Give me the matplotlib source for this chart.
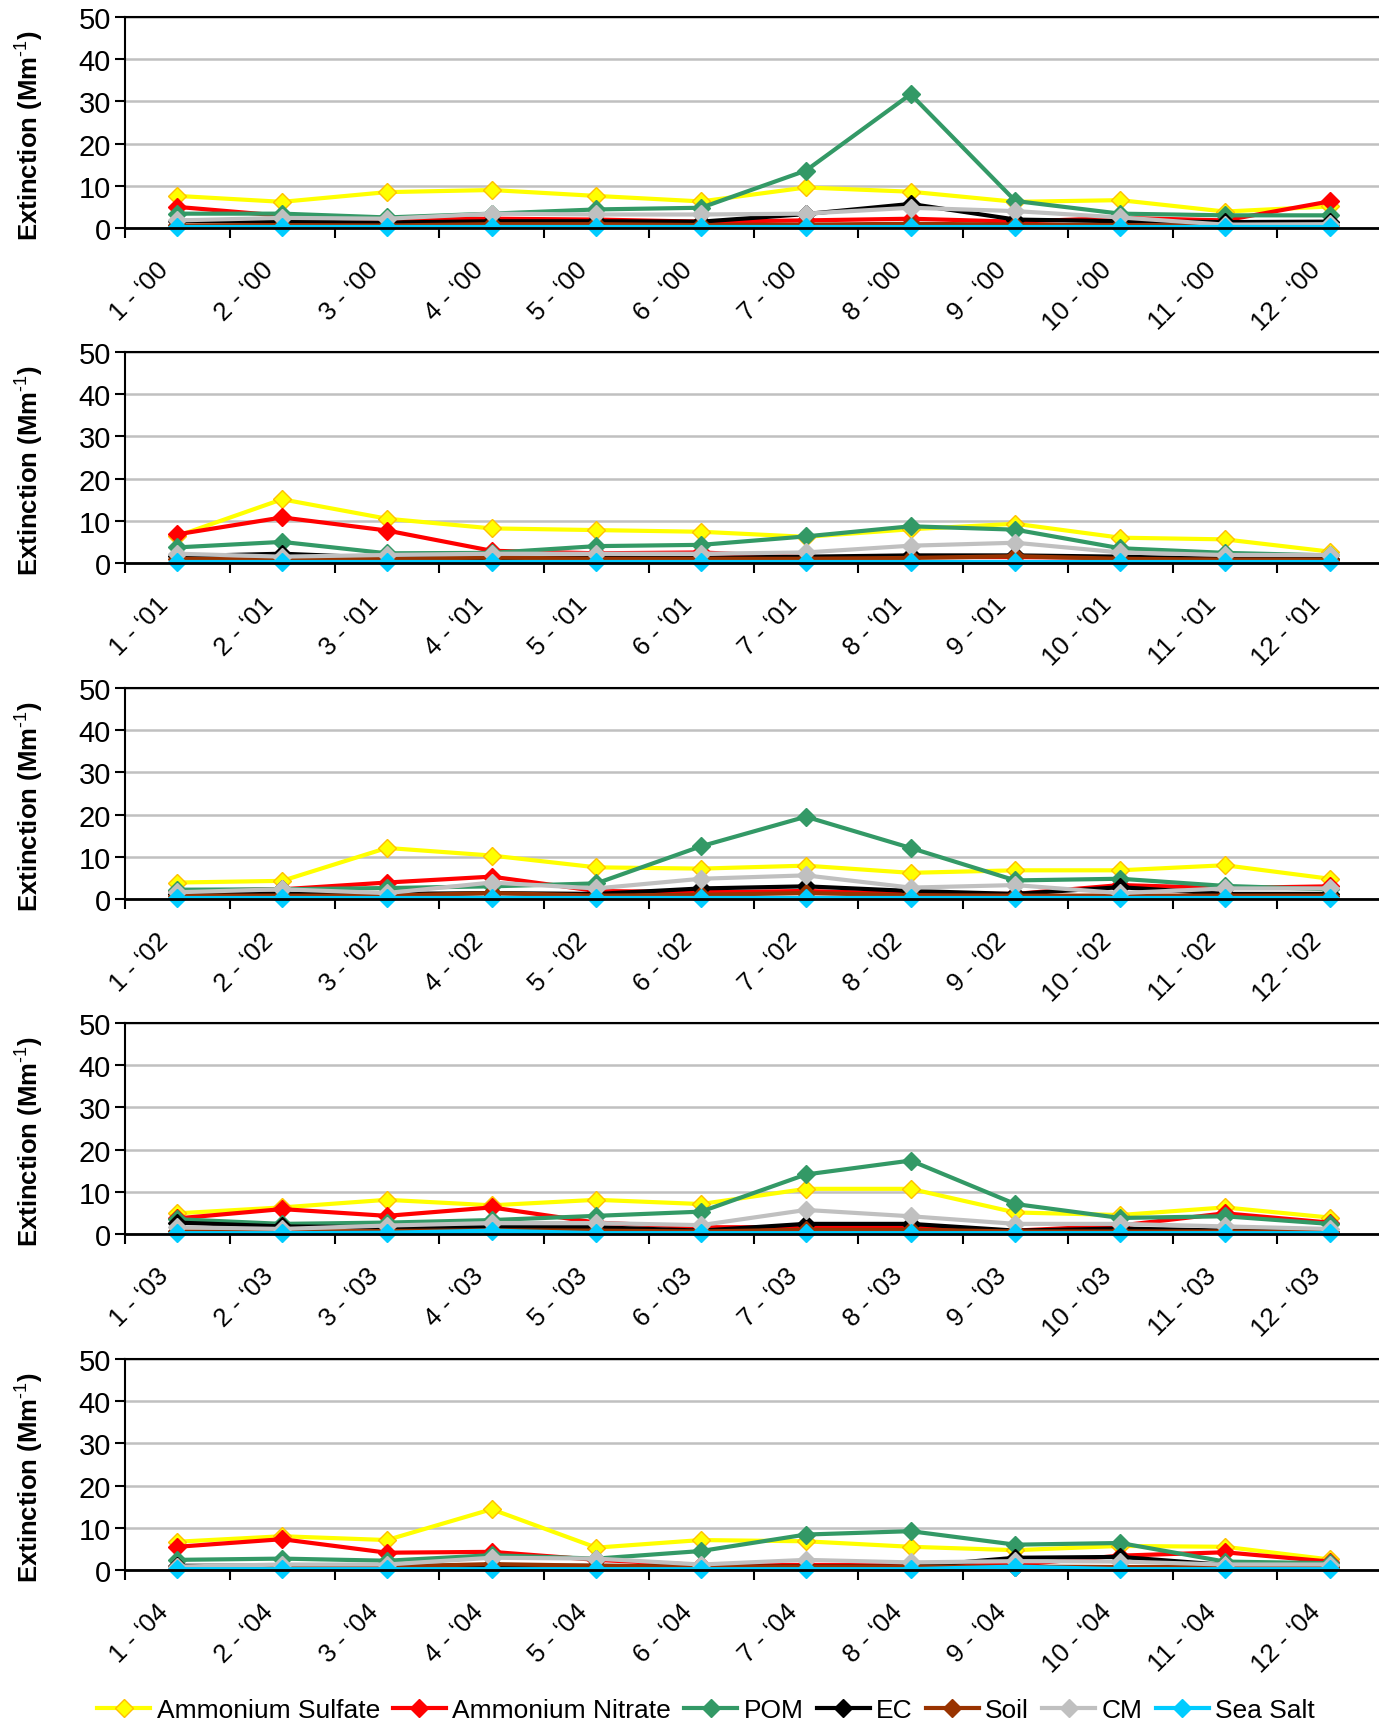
import numpy as np
import matplotlib
matplotlib.use("Agg")
import matplotlib.pyplot as plt
from matplotlib.transforms import ScaledTranslation

plt.rcParams['font.family'] = ['Liberation Sans', 'DejaVu Sans']
plt.rcParams['mathtext.fontset'] = 'custom'
plt.rcParams['mathtext.rm'] = 'Liberation Sans'
plt.rcParams['mathtext.bf'] = 'Liberation Sans:bold'

years = ['00', '01', '02', '03', '04']
months = list(range(1, 13))

# extinction (Mm-1), one row per year 2000..2004
amm_sulfate = [
    [7.6, 6.2, 8.5, 9.0, 7.6, 6.3, 9.6, 8.6, 6.2, 6.6, 3.9, 5.1],
    [6.4, 15.1, 10.5, 8.2, 7.8, 7.4, 6.2, 8.0, 9.3, 6.0, 5.6, 2.7],
    [3.9, 4.3, 12.1, 10.3, 7.5, 7.2, 7.9, 6.2, 6.8, 6.8, 8.0, 4.8],
    [4.9, 6.3, 8.1, 6.8, 8.1, 7.1, 10.7, 10.7, 5.1, 4.5, 6.3, 3.9],
    [6.7, 8.0, 7.1, 14.4, 5.3, 7.1, 6.8, 5.5, 4.7, 5.7, 5.5, 2.5],
]
amm_nitrate = [
    [5.0, 2.9, 2.0, 2.2, 2.0, 1.5, 1.8, 2.2, 1.5, 2.4, 1.8, 6.3],
    [6.8, 10.8, 7.7, 2.9, 2.3, 2.5, 1.4, 1.4, 1.4, 1.2, 1.0, 1.0],
    [1.9, 2.3, 3.9, 5.3, 1.9, 1.6, 1.9, 1.2, 1.2, 3.3, 2.6, 3.0],
    [3.7, 5.9, 4.3, 6.3, 2.7, 1.6, 1.6, 1.6, 0.8, 2.0, 4.9, 2.7],
    [5.5, 7.3, 4.1, 4.3, 2.4, 1.2, 1.2, 1.2, 1.2, 3.4, 4.2, 2.0],
]
pom = [
    [3.4, 3.4, 2.5, 3.4, 4.4, 4.8, 13.6, 31.7, 6.4, 3.4, 3.0, 3.0],
    [3.7, 5.0, 2.3, 2.4, 4.0, 4.3, 6.3, 8.7, 7.9, 3.5, 2.4, 1.8],
    [2.2, 2.3, 2.6, 3.0, 3.7, 12.5, 19.5, 12.1, 4.4, 4.8, 3.1, 2.3],
    [3.5, 2.4, 2.7, 3.3, 4.3, 5.3, 14.1, 17.4, 7.1, 3.8, 4.2, 2.4],
    [2.4, 2.7, 2.2, 3.5, 2.7, 4.5, 8.4, 9.2, 6.0, 6.4, 2.0, 1.6],
]
ec = [
    [1.7, 1.5, 1.3, 1.6, 1.6, 1.5, 3.3, 5.7, 2.0, 1.6, 1.4, 1.5],
    [1.6, 2.2, 1.2, 1.2, 1.2, 1.2, 1.5, 1.8, 1.8, 1.5, 1.0, 1.0],
    [1.2, 1.2, 1.2, 1.4, 1.2, 2.5, 3.0, 1.9, 1.2, 2.8, 1.2, 1.2],
    [2.7, 1.8, 1.6, 1.6, 1.6, 0.8, 2.4, 2.4, 0.8, 1.3, 0.8, 0.5],
    [1.0, 1.0, 1.0, 1.0, 1.0, 0.8, 0.8, 0.8, 2.9, 3.1, 1.2, 0.8],
]
soil = [
    [0.6, 0.7, 0.6, 0.9, 0.9, 0.7, 0.8, 1.0, 0.8, 0.7, 0.5, 0.6],
    [1.0, 0.8, 1.0, 1.3, 1.0, 1.0, 1.0, 1.2, 1.6, 1.0, 0.8, 0.8],
    [0.8, 0.8, 0.8, 1.4, 0.8, 1.0, 1.4, 0.9, 0.8, 0.8, 0.8, 0.8],
    [0.6, 0.6, 0.7, 0.9, 0.8, 0.6, 1.0, 1.0, 0.6, 0.6, 0.6, 0.5],
    [0.7, 0.8, 0.8, 1.4, 1.0, 0.8, 0.8, 0.8, 0.8, 0.7, 0.7, 0.6],
]
cm = [
    [1.8, 2.4, 2.2, 3.4, 3.2, 3.2, 3.4, 4.8, 4.0, 2.5, 0.8, 0.9],
    [2.2, 1.5, 1.9, 2.2, 2.2, 2.2, 2.5, 4.1, 4.8, 2.5, 1.9, 1.9],
    [1.6, 2.3, 1.4, 3.9, 2.5, 4.8, 5.6, 2.7, 3.3, 1.4, 2.5, 2.5],
    [1.6, 1.2, 2.0, 2.6, 2.6, 2.1, 5.7, 4.2, 2.4, 2.4, 1.8, 1.2],
    [0.8, 1.3, 1.3, 2.9, 2.7, 1.3, 2.4, 1.8, 2.1, 2.0, 1.3, 1.3],
]
sea_salt = [
    [0.2, 0.2, 0.2, 0.2, 0.2, 0.2, 0.2, 0.2, 0.2, 0.2, 0.2, 0.2],
    [0.2, 0.2, 0.2, 0.2, 0.2, 0.2, 0.2, 0.2, 0.2, 0.2, 0.2, 0.2],
    [0.2, 0.2, 0.2, 0.2, 0.2, 0.2, 0.2, 0.2, 0.2, 0.2, 0.2, 0.2],
    [0.2, 0.2, 0.3, 0.8, 0.2, 0.2, 0.2, 0.2, 0.2, 0.2, 0.2, 0.2],
    [0.2, 0.2, 0.2, 0.2, 0.2, 0.2, 0.2, 0.2, 0.8, 0.2, 0.2, 0.2],
]

series = [
    ('Ammonium Sulfate', amm_sulfate, '#FFFF00', '#FFC000'),
    ('Ammonium Nitrate', amm_nitrate, '#FF0000', '#FF0000'),
    ('POM', pom, '#339966', '#339966'),
    ('EC', ec, '#000000', '#000000'),
    ('Soil', soil, '#993300', '#993300'),
    ('CM', cm, '#C0C0C0', '#C0C0C0'),
    ('Sea Salt', sea_salt, '#00CCFF', '#00CCFF'),
]

W, H = 1379, 1724
fig = plt.figure(figsize=(W / 100, H / 100), dpi=100)

panel_tops = [18, 353, 689, 1024, 1360]
panel_h = 211
left_px = 125

handles = []
for i, yr in enumerate(years):
    top = panel_tops[i]
    ax = fig.add_axes([left_px / W, 1 - (top + panel_h) / H, (W - left_px + 3) / W, panel_h / H])
    for name, data, color, edge in series:
        ln, = ax.plot(months, data[i], color=color, lw=3.0, marker='D', ms=9.5,
                      mfc=color, mec=edge, mew=1.0, label=name, clip_on=False)
        if i == 0:
            handles.append(ln)

    ax.set_xlim(0.5, 12.5)
    ax.set_ylim(0, 50)
    ax.set_yticks(np.arange(0, 51, 10))
    ax.yaxis.grid(True, color='#C0C0C0', lw=1.8)
    ax.set_axisbelow(True)
    ax.tick_params(axis='y', labelsize=21, direction='out', length=7, width=1.5, pad=3)

    ax.set_xticks(np.arange(0.5, 12.6, 1.0))
    ax.set_xticklabels([])
    ax.set_xticks(months, minor=True)
    ax.set_xticklabels(["%d - \u2018%s" % (m, yr) for m in months], minor=True,
                       rotation=45, ha='right', va='center', rotation_mode='anchor',
                       fontsize=18.5)
    ax.tick_params(axis='x', which='major', direction='out', length=7, width=1.5)
    ax.tick_params(axis='x', which='minor', length=0, pad=27)
    off = ScaledTranslation(-9 / 72, 0, fig.dpi_scale_trans)
    for lab in ax.get_xticklabels(minor=True):
        lab.set_transform(lab.get_transform() + off)

    ax.spines['right'].set_visible(False)
    ax.spines['bottom'].set_linewidth(2.0)
    ax.spines['left'].set_linewidth(1.5)
    ax.spines['top'].set_linewidth(1.5)
    ax.set_ylabel(r'Extinction (Mm$^{\mathbf{\text{-1}}}$)', fontsize=18.5, fontweight='bold')
    ax.yaxis.set_label_coords(-0.064, 0.445)

fig.legend(handles=handles, loc='center', bbox_to_anchor=(0.512, 1 - 1711 / H), ncol=7,
           frameon=False, fontsize=19, handlelength=2.0, handletextpad=0.25,
           columnspacing=0.5, borderaxespad=0)

fig.savefig('out.png', dpi=100)
